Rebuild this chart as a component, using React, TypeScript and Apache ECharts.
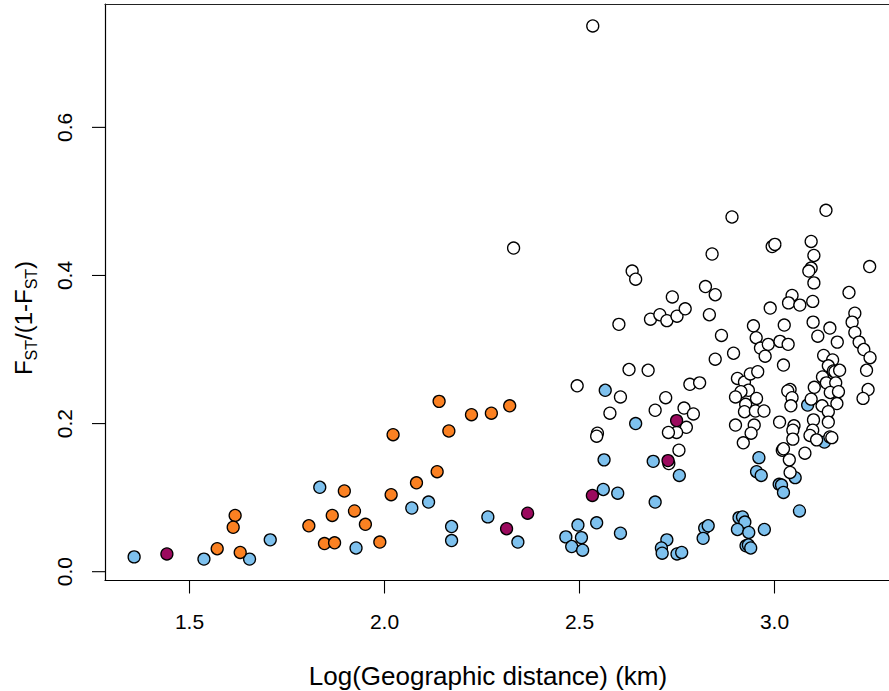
import React, { useEffect, useRef } from 'react';
import * as echarts from 'echarts';

const xTicks = [1.5, 2.0, 2.5, 3.0];
const yTicks = [0.0, 0.2, 0.4, 0.6];
const xRange = [1.2833, 3.2936];
const yRange = [-0.0119, 0.7666];

const xTitle = 'Log(Geographic distance) (km)';
const yTitleParts = ['F', 'ST', '/(1-F', 'ST', ')'];

const openPts = [
  [2.534, 0.737], [2.331, 0.437], [2.840, 0.429], [2.635, 0.406], [2.644, 0.395], [2.823, 0.385],
  [2.848, 0.374], [2.738, 0.371], [2.891, 0.479], [3.132, 0.488], [2.994, 0.439], [3.001, 0.442],
  [3.094, 0.446], [3.101, 0.427], [3.094, 0.410], [3.088, 0.406], [3.101, 0.390], [3.244, 0.412],
  [3.045, 0.373], [3.036, 0.363], [3.065, 0.360], [3.098, 0.365], [3.191, 0.377], [2.989, 0.356],
  [2.601, 0.334], [2.682, 0.341], [2.706, 0.347], [2.724, 0.339], [2.750, 0.345], [2.771, 0.355],
  [2.833, 0.347], [3.206, 0.349], [3.199, 0.337], [3.206, 0.323], [3.217, 0.310], [3.229, 0.300],
  [3.245, 0.289], [3.236, 0.272], [3.240, 0.246], [3.227, 0.234], [3.099, 0.337], [3.142, 0.329],
  [3.161, 0.310], [3.111, 0.318], [3.025, 0.333], [2.946, 0.332], [2.953, 0.316], [2.964, 0.302],
  [2.984, 0.307], [2.976, 0.291], [3.014, 0.311], [3.035, 0.307], [3.023, 0.279], [2.864, 0.319],
  [2.895, 0.295], [2.848, 0.287], [2.676, 0.272], [2.627, 0.273], [2.783, 0.253], [2.808, 0.255],
  [2.721, 0.235], [2.694, 0.218], [2.768, 0.221], [2.792, 0.213], [2.774, 0.195], [2.749, 0.188],
  [2.728, 0.188], [2.755, 0.164], [2.729, 0.146], [2.494, 0.251], [2.605, 0.236], [2.578, 0.214],
  [2.546, 0.187], [2.544, 0.183],
  [2.905, 0.261], [2.923, 0.256], [2.938, 0.267], [2.957, 0.270], [2.933, 0.245], [2.914, 0.243],
  [2.900, 0.236], [2.954, 0.234], [2.926, 0.226], [2.923, 0.216], [2.951, 0.217], [2.973, 0.217],
  [2.948, 0.198], [2.940, 0.187], [2.920, 0.174], [2.900, 0.198],
  [3.040, 0.246], [3.034, 0.244], [3.045, 0.235], [3.042, 0.224], [3.013, 0.202], [3.050, 0.197],
  [3.047, 0.191], [3.047, 0.179], [3.020, 0.164], [3.023, 0.166], [3.038, 0.151], [3.078, 0.160],
  [3.040, 0.134],
  [3.126, 0.292], [3.149, 0.286], [3.138, 0.278], [3.151, 0.271], [3.155, 0.270], [3.167, 0.272],
  [3.123, 0.263], [3.133, 0.255], [3.157, 0.255], [3.102, 0.249], [3.143, 0.242], [3.164, 0.243],
  [3.160, 0.227], [3.122, 0.224], [3.138, 0.216], [3.094, 0.233], [3.100, 0.205], [3.138, 0.202],
  [3.098, 0.191], [3.091, 0.184], [3.108, 0.178], [3.142, 0.182], [3.147, 0.181],
];

const bluePts = [
  [1.358, 0.020], [1.537, 0.017], [1.654, 0.017], [1.707, 0.043], [1.834, 0.114], [1.927, 0.032],
  [2.070, 0.086], [2.113, 0.094], [2.172, 0.061], [2.172, 0.042], [2.265, 0.074], [2.342, 0.040],
  [2.465, 0.047], [2.496, 0.063], [2.505, 0.046], [2.480, 0.034], [2.508, 0.029], [2.563, 0.151],
  [2.544, 0.066], [2.561, 0.111], [2.598, 0.106], [2.605, 0.052], [2.566, 0.245], [2.644, 0.200],
  [2.689, 0.149], [2.756, 0.130], [2.694, 0.094], [2.724, 0.043], [2.710, 0.032], [2.712, 0.025],
  [2.750, 0.024], [2.762, 0.026], [2.821, 0.059], [2.830, 0.062], [2.817, 0.045], [2.909, 0.073],
  [2.918, 0.074], [2.924, 0.067], [2.905, 0.057], [2.934, 0.053], [2.974, 0.057], [2.927, 0.035],
  [2.933, 0.036], [2.939, 0.032], [2.960, 0.154], [2.954, 0.135], [2.966, 0.130], [3.012, 0.118],
  [3.018, 0.117], [3.023, 0.107], [3.053, 0.127], [3.064, 0.082], [3.085, 0.225], [3.128, 0.175],
];

const orangePts = [
  [1.617, 0.076], [1.612, 0.060], [1.571, 0.031], [1.630, 0.026], [1.806, 0.062], [1.897, 0.109],
  [1.866, 0.076], [1.923, 0.082], [1.951, 0.064], [1.846, 0.038], [1.872, 0.039], [1.988, 0.040],
  [2.017, 0.104], [2.022, 0.185], [2.140, 0.230], [2.165, 0.190], [2.223, 0.212], [2.274, 0.214],
  [2.321, 0.224], [2.135, 0.135], [2.082, 0.120],
];

const purplePts = [
  [1.442, 0.024], [2.313, 0.058], [2.367, 0.079], [2.533, 0.103], [2.749, 0.204], [2.727, 0.150],
];

const FONT = "'Liberation Sans', Arial, Helvetica, sans-serif";
const TICK_LEN = 13;

function mkSeries(name: string, data: number[][], color: string) {
  return {
    name,
    type: 'scatter',
    data,
    symbol: 'circle',
    symbolSize: 12,
    silent: true,
    itemStyle: { color, borderColor: '#000', borderWidth: 1.3, opacity: 1 },
    emphasis: { disabled: true },
  };
}

function tickSeries(data: number[][], dir: 'x' | 'y') {
  return {
    type: 'custom',
    silent: true,
    clip: false,
    data,
    renderItem: (_params: any, api: any) => {
      const p = api.coord([api.value(0), api.value(1)]);
      const shape =
        dir === 'x'
          ? { x1: p[0], y1: p[1], x2: p[0], y2: p[1] + TICK_LEN }
          : { x1: p[0] - TICK_LEN, y1: p[1], x2: p[0], y2: p[1] };
      return { type: 'line', shape, style: { stroke: '#000', lineWidth: 1.1 } };
    },
  };
}

export default function App() {
  const ref = useRef<HTMLDivElement>(null);
  useEffect(() => {
    if (!ref.current) return;
    const chart = echarts.init(ref.current, null, { renderer: 'svg' });
    chart.setOption({
      animation: false,
      backgroundColor: '#fff',
      grid: { left: 105, right: 0, top: 4, bottom: 110.5, containLabel: false },
      xAxis: [
        {
          type: 'value',
          min: xRange[0],
          max: xRange[1],
          position: 'bottom',
          splitLine: { show: false },
          axisLine: { show: true, onZero: false, lineStyle: { color: '#000', width: 1.2 } },
          axisTick: { show: false },
          axisLabel: {
            show: true,
            customValues: xTicks,
            margin: 30,
            fontSize: 21,
            fontFamily: FONT,
            color: '#000',
            formatter: (v: number) => v.toFixed(1),
          },
        },
        {
          type: 'value',
          min: xRange[0],
          max: xRange[1],
          position: 'top',
          splitLine: { show: false },
          axisLine: { show: true, onZero: false, lineStyle: { color: '#222', width: 1.2 } },
          axisTick: { show: false },
          axisLabel: { show: false },
        },
      ],
      yAxis: {
        type: 'value',
        min: yRange[0],
        max: yRange[1],
        splitLine: { show: false },
        axisLine: { show: true, onZero: false, lineStyle: { color: '#000', width: 1.2 } },
        axisTick: { show: false },
        axisLabel: {
          show: true,
          customValues: yTicks,
          rotate: 90,
          margin: 30,
          fontSize: 21,
          fontFamily: FONT,
          color: '#000',
          formatter: (v: number) => v.toFixed(1),
        },
      },
      graphic: [
        {
          type: 'text',
          x: 488,
          y: 676,
          silent: true,
          style: {
            text: xTitle,
            fontSize: 26,
            fontFamily: FONT,
            fill: '#000',
            align: 'center',
            verticalAlign: 'middle',
          },
        },
        {
          type: 'text',
          x: 23,
          y: 318,
          rotation: Math.PI / 2,
          silent: true,
          style: {
            text: `{a|${yTitleParts[0]}}{b|${yTitleParts[1]}}{a|${yTitleParts[2]}}{b|${yTitleParts[3]}}{a|${yTitleParts[4]}}`,
            fontFamily: FONT,
            fill: '#000',
            align: 'center',
            verticalAlign: 'middle',
            rich: {
              a: { fontSize: 24, fontFamily: FONT, fill: '#000', verticalAlign: 'top', lineHeight: 24 },
              b: { fontSize: 16, fontFamily: FONT, fill: '#000', verticalAlign: 'top', lineHeight: 16, padding: [12, 0, 0, 0] },
            },
          },
        },
      ],
      series: [
        tickSeries(xTicks.map((v) => [v, yRange[0]]), 'x'),
        tickSeries(yTicks.map((v) => [xRange[0], v]), 'y'),
        mkSeries('blue', bluePts, '#7EC1EE'),
        mkSeries('open', openPts, '#FFFFFF'),
        mkSeries('orange', orangePts, '#FB8122'),
        mkSeries('purple', purplePts, '#9B0A5E'),
      ],
    });
    return () => chart.dispose();
  }, []);
  return (
    <div
      ref={ref}
      style={{ position: 'absolute', left: 0, top: 0, width: 889, height: 691, background: '#fff' }}
    />
  );
}
